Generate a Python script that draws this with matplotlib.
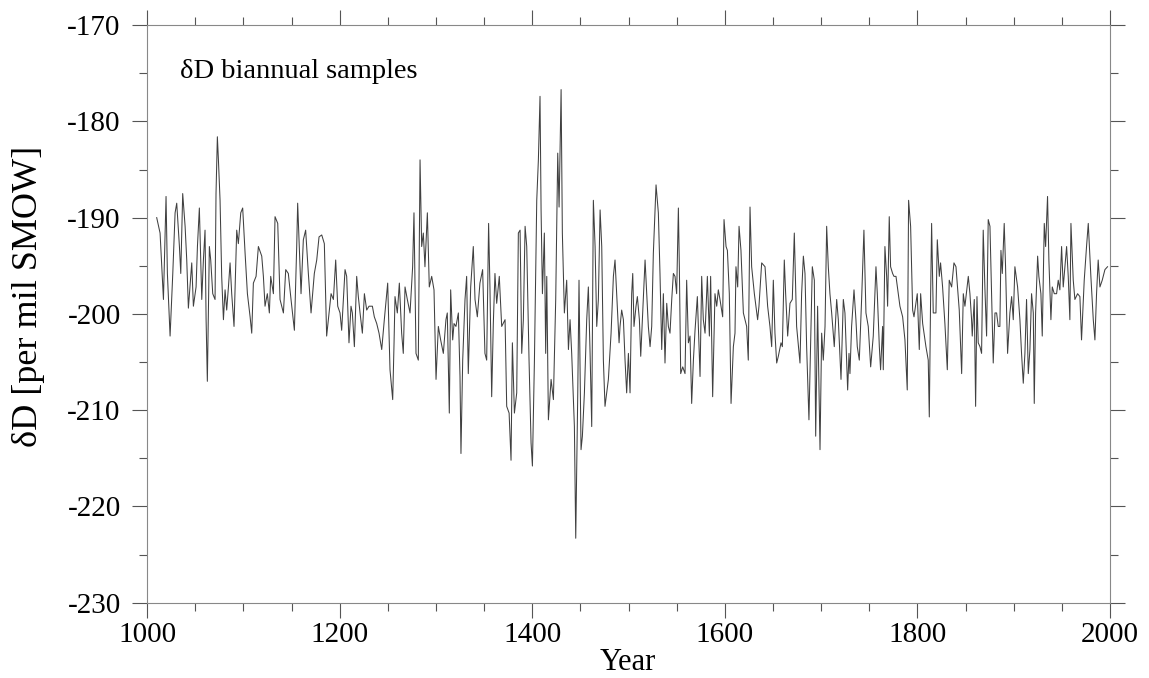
import numpy as np
import matplotlib
matplotlib.use("Agg")
import matplotlib.pyplot as plt
from matplotlib.ticker import MultipleLocator

plt.rcParams['font.family'] = ['Liberation Serif', 'DejaVu Serif']
plt.rcParams['axes.unicode_minus'] = False

# dD record (year, per mil SMOW)
years = [
    1010.0, 1013.5, 1017.0, 1019.7, 1021.1, 1023.9, 1026.7, 1029.1, 1030.8, 1033.6,
    1035.0, 1037.0, 1039.5, 1041.2, 1042.9, 1046.4, 1048.1, 1050.9, 1052.3, 1054.3,
    1056.8, 1058.5, 1060.2, 1061.3, 1062.6, 1064.7, 1066.1, 1068.2, 1070.6, 1071.6,
    1073.0, 1074.1, 1075.8, 1077.5, 1079.3, 1081.0, 1082.7, 1084.5, 1086.2, 1087.9,
    1090.3, 1093.1, 1094.8, 1097.3, 1099.3, 1101.8, 1104.2, 1107.0, 1108.7, 1110.4,
    1113.2, 1115.6, 1119.1, 1120.8, 1122.5, 1124.9, 1127.0, 1128.4, 1131.2,
    1132.9, 1135.7, 1138.1, 1141.6, 1144.0, 1146.7, 1149.5, 1153.0, 1155.4, 1156.4,
    1157.8, 1159.9, 1162.3, 1164.7, 1167.5, 1170.3, 1173.7, 1176.2, 1178.6, 1181.4,
    1184.1, 1186.5, 1189.0, 1191.1, 1193.5, 1195.9, 1198.0, 1200.4, 1202.1, 1205.6,
    1207.3, 1209.7, 1211.8, 1213.2, 1215.3, 1217.7, 1219.4, 1221.2, 1223.6, 1225.7,
    1228.1, 1230.5, 1234.0, 1236.0, 1238.5, 1240.9, 1243.7, 1246.4, 1249.9, 1251.3,
    1252.3, 1255.1, 1256.5, 1257.5, 1259.9, 1262.0, 1264.4, 1266.1, 1267.9, 1270.3,
    1273.1, 1275.8, 1277.2, 1279.3, 1281.7, 1283.5, 1285.2, 1286.9, 1288.6, 1291.1,
    1293.1, 1295.6, 1298.0, 1300.1, 1302.5, 1304.9, 1307.7, 1310.4, 1311.8, 1313.9,
    1315.3, 1317.4, 1318.8, 1320.8, 1323.3, 1325.0, 1326.0, 1327.8, 1330.2, 1331.9,
    1333.6, 1336.1, 1338.8, 1340.6, 1343.0, 1345.7, 1348.5, 1350.9, 1352.7, 1354.7,
    1356.1, 1357.9, 1359.6, 1361.3, 1363.1, 1365.8, 1368.3,
    1371.8, 1373.5, 1376.0, 1378.0, 1379.4, 1381.5, 1383.9, 1385.6, 1387.4, 1389.1,
    1390.8, 1392.6, 1394.3, 1396.7, 1398.8, 1400.2, 1402.3, 1404.7, 1406.4, 1408.1,
    1409.2, 1410.6, 1412.6, 1414.0, 1415.1, 1416.8, 1419.6, 1422.0, 1424.4, 1426.5,
    1427.9, 1430.0, 1431.3, 1433.4, 1435.8, 1437.6, 1439.3, 1441.0, 1443.8, 1445.2,
    1447.3, 1448.6, 1450.7, 1452.1, 1454.2, 1456.6, 1458.3, 1460.1, 1461.8, 1463.5,
    1465.3, 1467.0, 1468.7, 1470.5, 1472.2, 1473.9, 1475.6, 1479.1, 1481.9, 1484.3,
    1486.0, 1487.7, 1490.2,
    1491.2, 1492.9, 1494.7, 1496.4, 1498.1, 1499.9, 1501.6, 1503.3, 1504.4, 1505.7,
    1507.8, 1509.2, 1511.3, 1512.7, 1514.7, 1517.2, 1518.9, 1520.6, 1522.4, 1524.1,
    1525.8, 1527.5, 1528.6, 1531.0, 1532.7, 1534.5, 1536.2, 1537.9, 1539.7, 1541.4,
    1543.1, 1544.9, 1546.6, 1548.3, 1550.0, 1551.8, 1552.8, 1554.2, 1556.3, 1558.7,
    1560.4, 1562.2, 1563.9, 1565.6, 1567.4, 1569.1, 1571.5, 1574.3, 1576.0, 1577.7,
    1579.5, 1581.9, 1584.0, 1585.3, 1587.4, 1589.8, 1591.6, 1593.3, 1595.0, 1597.8,
    1599.2, 1601.3, 1602.7, 1604.7, 1606.5, 1608.9,
    1610.6, 1611.6, 1613.4, 1614.8, 1616.8, 1619.3, 1622.7, 1624.4, 1626.2, 1627.9,
    1630.7, 1634.1, 1635.5, 1638.3, 1641.8, 1644.5, 1646.9, 1648.7, 1650.4, 1652.1,
    1653.9, 1655.6, 1658.4, 1659.8, 1661.8, 1663.2, 1665.3, 1667.7, 1670.1, 1672.2,
    1674.6, 1678.1, 1679.8, 1681.6, 1683.3, 1685.0, 1687.4, 1689.5, 1690.9, 1693.0,
    1694.4, 1696.4, 1698.9, 1700.6, 1702.3, 1704.1, 1705.8, 1707.5, 1709.2, 1711.0,
    1713.7, 1716.2, 1717.9, 1720.7, 1723.1, 1724.8, 1727.6, 1729.0,
    1730.0, 1731.7, 1734.2, 1736.2, 1737.6, 1739.7, 1742.1, 1744.5, 1746.6, 1749.0,
    1751.5, 1754.2, 1757.0, 1758.4, 1760.5, 1761.8, 1763.9, 1764.6, 1766.3, 1768.1,
    1769.1, 1770.8, 1772.2, 1774.3, 1775.7, 1777.8, 1780.2, 1781.9, 1784.7, 1787.1,
    1789.5, 1790.9, 1793.0, 1795.1, 1796.5, 1798.5, 1799.9, 1802.0, 1803.4, 1805.5,
    1808.9, 1811.3, 1812.4, 1813.8, 1814.8, 1816.5, 1819.3, 1820.7, 1822.8, 1824.1,
    1826.2, 1828.6, 1831.1, 1833.1, 1835.6, 1838.0, 1840.1, 1843.5, 1846.0, 1847.7,
    1849.4, 1852.9, 1854.6, 1856.3, 1857.0, 1859.1, 1860.5, 1861.9, 1863.2, 1865.0,
    1866.7, 1868.4, 1870.2, 1871.9, 1873.6, 1875.4, 1877.1, 1878.8, 1880.6, 1882.3,
    1884.0, 1885.7, 1886.8, 1888.2, 1890.2, 1891.6, 1893.7, 1896.1, 1897.9, 1899.6,
    1901.3, 1904.1, 1906.5, 1908.2, 1910.0, 1911.7, 1913.4, 1915.2, 1916.9, 1918.6,
    1920.4, 1921.4, 1922.8, 1924.9, 1926.2, 1928.3, 1929.7, 1931.8, 1933.2, 1935.2,
    1936.6, 1938.7, 1940.1, 1942.2, 1944.6, 1946.3, 1948.0, 1949.8, 1951.5, 1953.2,
    1955.0, 1956.7, 1958.4, 1959.5, 1961.9, 1963.6, 1966.4, 1968.8, 1970.5, 1973.3,
    1975.7, 1977.5, 1980.2, 1982.7, 1984.4, 1986.1, 1987.8, 1989.6, 1992.0, 1994.8,
    1997.5,
]

dD = [
    -190.0, -191.6, -198.5, -187.8, -195.8, -202.3, -195.8, -189.5, -188.5, -193.0,
    -195.8, -187.5, -190.9, -194.4, -199.4, -194.7, -199.2, -197.2, -193.0, -189.0,
    -198.5, -194.4, -191.3, -200.6, -207.0, -193.0, -194.4, -197.9, -198.5, -187.5,
    -181.6, -184.0, -188.2, -196.1, -200.6, -197.5, -199.6, -197.2, -194.7, -197.9,
    -201.3, -191.3, -192.7, -189.5, -189.0, -193.7, -197.9, -200.3, -202.0, -196.8,
    -196.1, -193.0, -194.0, -196.1, -199.2, -197.9, -199.9, -196.1, -197.9,
    -189.9, -190.6, -198.5, -199.9, -195.4, -195.8, -198.5, -201.7, -193.0, -188.5,
    -192.3, -197.9, -192.3, -191.3, -195.8, -199.9, -195.8, -194.4, -192.0, -191.8,
    -192.7, -202.3, -199.9, -197.9, -198.5, -194.4, -199.2, -199.9, -201.7, -195.4,
    -196.1, -203.0, -199.2, -199.9, -203.4, -196.1, -198.2, -199.9, -202.0, -197.9,
    -199.6, -199.2, -199.2, -200.3, -201.0, -202.0, -203.7, -200.6, -196.8, -202.0,
    -205.8, -208.9, -203.0, -198.2, -199.9, -196.8, -202.0, -204.1, -197.2, -198.5,
    -199.9, -195.1, -189.5, -204.1, -204.8, -184.0, -193.0, -191.6, -195.1, -189.5,
    -197.2, -196.1, -197.5, -206.8, -201.3, -202.7, -204.1, -200.6, -199.9, -210.3,
    -197.5, -202.7, -201.0, -201.3, -199.9, -206.5, -214.5, -204.8, -198.5, -196.1,
    -206.2, -197.2, -193.0, -198.5, -200.3, -196.8, -195.4, -204.1, -204.8, -190.6,
    -197.2, -208.6, -201.0, -195.8, -198.9, -196.1, -201.3,
    -200.6, -209.6, -210.3, -215.2, -203.0, -210.3, -208.2, -191.6, -191.3, -204.1,
    -200.6, -190.9, -193.0, -204.8, -213.4, -215.8, -204.8, -188.2, -184.0, -177.4,
    -189.2, -197.9, -191.6, -204.1, -196.1, -211.0, -206.8, -208.9, -198.5, -183.3,
    -188.9, -176.7, -191.6, -199.9, -196.5, -203.7, -200.6, -204.1, -211.7, -223.3,
    -208.2, -196.5, -214.1, -212.7, -208.2, -200.6, -197.2, -204.1, -211.7, -188.2,
    -193.0, -201.3, -198.5, -189.2, -193.0, -204.8, -209.6, -206.8, -202.0, -196.1,
    -194.4, -197.9, -203.0,
    -201.3, -199.6, -200.6, -204.8, -208.2, -204.1, -208.2, -197.9, -195.8, -201.3,
    -199.2, -198.2, -200.6, -204.4, -199.9, -194.4, -197.9, -201.3, -203.4, -201.3,
    -193.7, -189.5, -186.6, -189.5, -195.8, -203.7, -197.9, -205.1, -198.9, -201.3,
    -202.0, -198.5, -195.8, -196.1, -197.9, -189.0, -195.1, -206.2, -205.5, -206.2,
    -196.5, -203.0, -202.3, -209.3, -204.8, -201.7, -198.2, -206.5, -196.1, -200.6,
    -202.0, -196.1, -202.3, -196.1, -208.6, -197.9, -199.2, -197.5, -198.5, -200.3,
    -190.2, -193.0, -193.4, -197.9, -209.3, -203.4,
    -202.0, -195.1, -197.2, -190.9, -193.4, -199.9, -201.3, -204.8, -188.9, -195.1,
    -197.9, -200.6, -199.2, -194.7, -195.1, -199.2, -201.3, -203.4, -196.5, -202.0,
    -205.1, -204.4, -203.0, -203.4, -194.4, -197.9, -202.3, -198.9, -198.5, -191.6,
    -201.3, -205.1, -197.9, -194.0, -195.8, -203.4, -211.0, -201.3, -195.1, -196.5,
    -212.7, -199.2, -214.1, -202.0, -204.8, -201.3, -190.9, -195.1, -197.9, -199.9,
    -203.4, -198.5, -200.6, -206.8, -198.5, -199.9, -207.9, -204.1,
    -206.2, -201.3, -197.5, -200.6, -203.4, -204.8, -198.5, -191.3, -199.9, -201.3,
    -205.5, -202.3, -195.1, -197.9, -203.4, -205.8, -201.3, -205.8, -193.0, -196.1,
    -199.2, -189.9, -195.1, -195.8, -196.1, -196.1, -197.9, -199.2, -200.3, -202.7,
    -207.9, -188.2, -190.9, -199.6, -200.3, -198.9, -197.9, -203.7, -197.9, -201.0,
    -203.4, -204.8, -210.7, -197.9, -190.6, -199.9, -199.9, -192.3, -196.1, -194.7,
    -197.2, -201.0, -205.8, -196.5, -197.2, -194.7, -195.1, -199.6, -206.2, -197.9,
    -199.2, -196.1, -197.9, -200.6, -202.3, -198.5, -209.6, -198.2, -203.0, -203.4,
    -204.1, -191.3, -197.5, -202.3, -190.2, -190.9, -197.9, -205.1, -199.9, -199.9,
    -201.3, -201.3, -193.4, -195.8, -190.6, -195.1, -204.1, -199.9, -198.2, -200.6,
    -195.1, -197.2, -200.6, -204.1, -207.2, -204.1, -198.5, -206.2, -203.7, -197.9,
    -199.9, -209.3, -199.9, -194.0, -196.1, -197.9, -202.3, -190.6, -193.0, -187.8,
    -194.4, -200.6, -197.2, -197.9, -197.9, -196.5, -197.5, -193.0, -197.2, -195.1,
    -193.0, -196.1, -200.6, -190.6, -196.5, -198.5, -197.9, -198.2, -202.7, -196.5,
    -193.0, -190.6, -196.1, -200.6, -202.7, -197.9, -194.4, -197.2, -196.5, -195.4,
    -195.1,
]

fig = plt.figure(figsize=(11.49, 6.78), dpi=100)
ax = fig.add_axes([0.128, 0.111, 0.838, 0.852])

ax.plot(years, dD, color='#404040', lw=0.75)

ax.set_xlim(1000, 2000)
ax.set_ylim(-230, -170)
ax.xaxis.set_major_locator(MultipleLocator(200))
ax.xaxis.set_minor_locator(MultipleLocator(50))
ax.yaxis.set_major_locator(MultipleLocator(10))
ax.yaxis.set_minor_locator(MultipleLocator(5))

ax.tick_params(which='both', direction='out', top=True, right=True,
               color='#555555', width=0.8, labelsize=21)
ax.tick_params(which='major', length=11)
ax.tick_params(which='minor', length=6)
ax.tick_params(axis='x', pad=3)
ax.tick_params(axis='y', pad=8)
for s in ax.spines.values():
    s.set_color('#888888')
    s.set_linewidth(0.8)

ax.set_xlabel('Year', fontsize=22)
ax.xaxis.set_label_coords(0.4995, -0.079)
ax.set_ylabel('δD [per mil SMOW]', fontsize=26)
ax.yaxis.set_label_coords(-0.106, 0.53)

ax.text(0.034, 0.908, 'δD biannual samples', transform=ax.transAxes,
        fontsize=20.5, ha='left', va='baseline')

fig.savefig('out.png', dpi=100)
